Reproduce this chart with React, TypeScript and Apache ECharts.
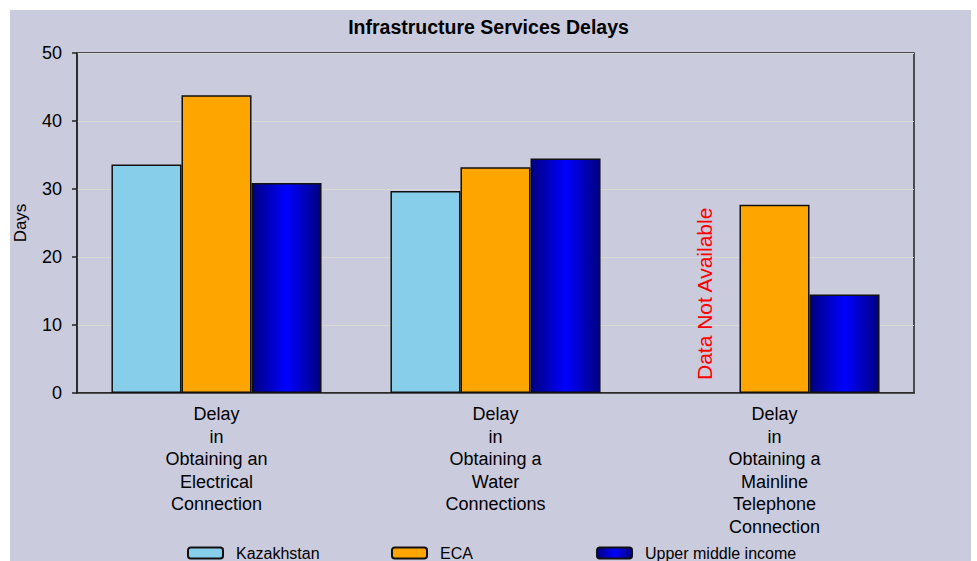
import React, { useEffect, useRef } from "react";
import * as echarts from "echarts";

const TITLE = "Infrastructure Services Delays";
const CATEGORIES = [
  "Delay\nin\nObtaining an\nElectrical\nConnection",
  "Delay\nin\nObtaining a\nWater\nConnections",
  "Delay\nin\nObtaining a\nMainline\nTelephone\nConnection",
];
const SERIES_NAMES = ["Kazakhstan", "ECA", "Upper middle income"];
const KAZAKHSTAN: (number | null)[] = [33.6, 29.7, null];
const ECA = [43.8, 33.2, 27.7];
const UPPER_MIDDLE = [30.9, 34.5, 14.5];
const Y_TICKS = { min: 0, max: 50, interval: 10 };
const NA_TEXT = "Data Not Available";

const FONT = "'Liberation Sans', Arial, sans-serif";
const LEGEND_LEFTS = [187, 391, 596];

export default function App() {
  const ref = useRef<HTMLDivElement>(null);
  useEffect(() => {
    if (!ref.current) return;
    const chart = echarts.init(ref.current, undefined, { renderer: "svg" });
    const border = { borderColor: "#111", borderWidth: 1.5 };
    const blueGrad = new echarts.graphic.LinearGradient(0, 0, 1, 0, [
      { offset: 0, color: "#000080" },
      { offset: 0.5, color: "#0000ff" },
      { offset: 1, color: "#000080" },
    ]);
    const kazData = KAZAKHSTAN.map((v) =>
      v === null
        ? {
            value: 0,
            itemStyle: { borderWidth: 0, color: "transparent" },
            label: {
              show: true,
              formatter: NA_TEXT,
              position: "insideBottom",
              rotate: 90,
              align: "left",
              verticalAlign: "middle",
              distance: 13,
              color: "#ff0000",
              fontSize: 21,
              fontFamily: FONT,
            },
          }
        : v
    );
    const legends = SERIES_NAMES.map((name, i) => ({
      left: LEGEND_LEFTS[i],
      top: 545,
      padding: 0,
      itemWidth: 35,
      itemHeight: 11,
      itemGap: 0,
      icon: "roundRect",
      textStyle: {
        fontFamily: FONT,
        fontSize: 16,
        color: "#000",
        padding: [0, 0, 0, 8],
      },
      data: [name],
    }));
    chart.setOption({
      animation: false,
      backgroundColor: "transparent",
      title: {
        text: TITLE,
        left: "center",
        top: 17,
        padding: 0,
        textStyle: { fontFamily: FONT, fontSize: 19.5, fontWeight: "bold", color: "#000" },
      },
      legend: legends,
      grid: {
        left: 77,
        top: 53,
        right: 63,
        bottom: 168,
        outerBoundsMode: "none",
        containLabel: false,
        show: true,
        borderColor: "#222",
        borderWidth: 1.5,
        backgroundColor: "transparent",
      },
      xAxis: {
        type: "category",
        data: CATEGORIES,
        axisLine: { lineStyle: { color: "#222", width: 1.5 } },
        axisTick: { show: false },
        axisLabel: {
          interval: 0,
          margin: 10,
          fontFamily: FONT,
          fontSize: 18,
          lineHeight: 22.5,
          color: "#000",
          align: "center",
        },
      },
      yAxis: {
        type: "value",
        min: Y_TICKS.min,
        max: Y_TICKS.max,
        interval: Y_TICKS.interval,
        name: "Days",
        nameLocation: "middle",
        nameGap: 48,
        nameRotate: 90,
        nameTextStyle: { fontFamily: FONT, fontSize: 17, color: "#000" },
        axisLine: { show: true, lineStyle: { color: "#222", width: 1.5 } },
        axisTick: { show: true, length: 5, lineStyle: { color: "#222", width: 1.5 } },
        axisLabel: { margin: 15, fontFamily: FONT, fontSize: 18, color: "#000" },
        splitLine: { show: true, lineStyle: { color: "#d9d9d4", width: 1 } },
      },
      series: [
        {
          name: SERIES_NAMES[0],
          type: "bar",
          data: kazData,
          barGap: "0%",
          barCategoryGap: "24.7%",
          itemStyle: { color: "#87ceeb", ...border },
        },
        {
          name: SERIES_NAMES[1],
          type: "bar",
          data: ECA,
          barGap: "0%",
          barCategoryGap: "24.7%",
          itemStyle: { color: "#ffa500", ...border },
        },
        {
          name: SERIES_NAMES[2],
          type: "bar",
          data: UPPER_MIDDLE,
          barGap: "0%",
          barCategoryGap: "24.7%",
          itemStyle: { color: blueGrad, ...border },
        },
      ],
    });
    return () => chart.dispose();
  }, []);
  return (
    <div style={{ position: "fixed", left: 0, top: 0, width: 977, height: 561, background: "#fff" }}>
      <div
        style={{
          position: "absolute",
          left: 10,
          top: 10,
          width: 961,
          height: 551,
          background: "#cbcbde",
        }}
      />
      <div ref={ref} style={{ position: "absolute", left: 0, top: 0, width: 977, height: 561 }} />
    </div>
  );
}
